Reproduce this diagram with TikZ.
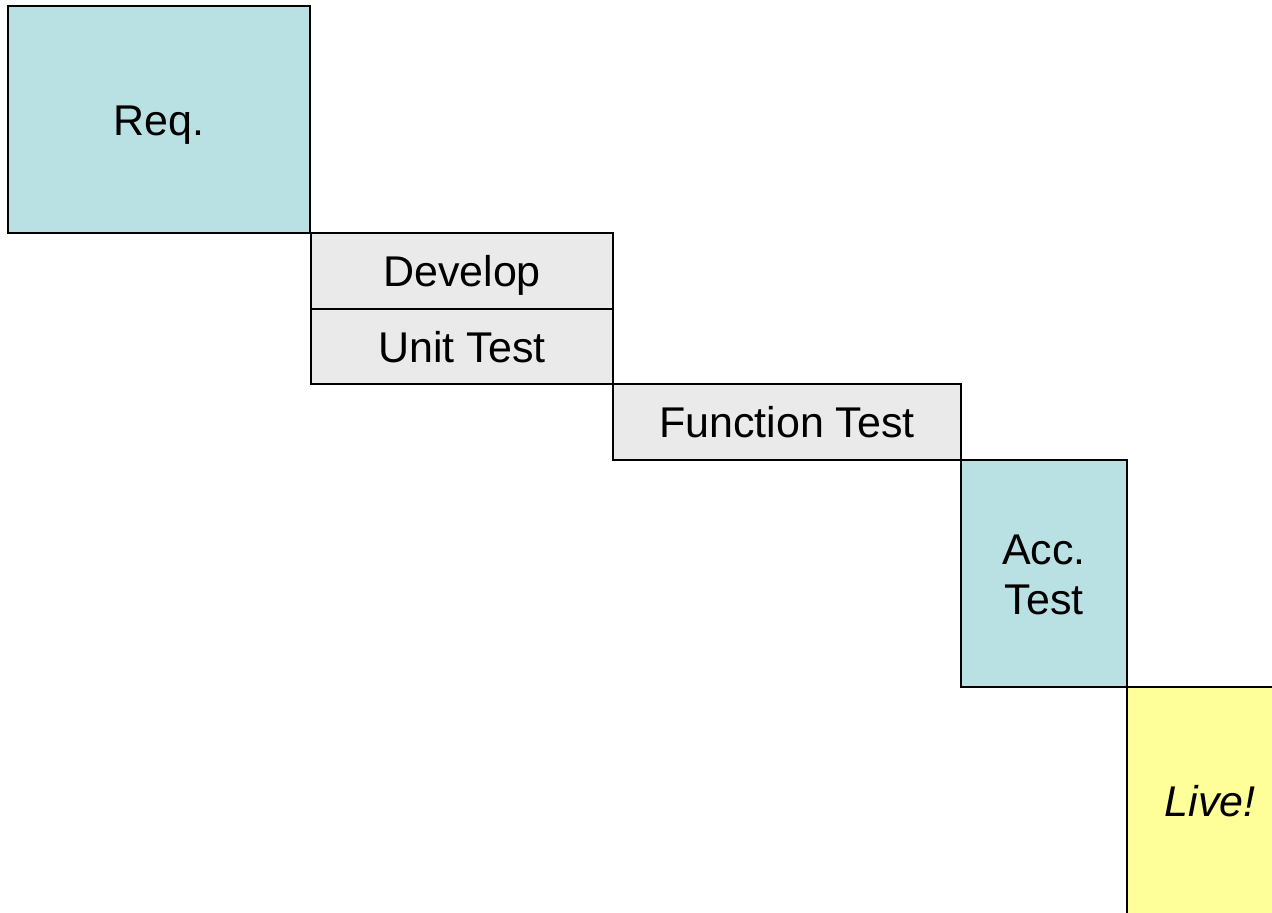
\documentclass[tikz,border=0pt]{standalone}
\usepackage{fontspec}
\setmainfont{Liberation Sans}
\usepackage{tikz}

\definecolor{reqblue}{RGB}{185,224,227}
\definecolor{stepgray}{RGB}{234,234,234}
\definecolor{liveyellow}{RGB}{255,255,153}

\tikzset{
  phase/.style={draw=black, line width=1.5pt, rectangle, inner sep=0pt,
    align=center, text height=31pt, text depth=0pt,
    font=\fontsize{43}{50}\selectfont}
}

\begin{document}
\begin{tikzpicture}[x=1pt, y=-1pt]
\clip (0,0) rectangle (1272,913) ;
\fill[white] (0,0) rectangle (1272,913) ;
\coordinate (R) at (159,119.5) ;
\coordinate (D) at (462,271) ;
\coordinate (U) at (462,346.5) ;
\coordinate (F) at (787,422) ;
\coordinate (A) at (1044,573.5) ;
\coordinate (L) at (1210,800.5) ;
\node[phase, fill=reqblue, minimum width=302pt, minimum height=227pt] (req) at (R) {Req.} ;
\node[phase, fill=stepgray, minimum width=302pt, minimum height=76pt] (develop) at (D) {Develop} ;
\node[phase, fill=stepgray, minimum width=302pt, minimum height=75pt] (unittest) at (U) {Unit Test} ;
\node[phase, fill=stepgray, minimum width=348pt, minimum height=76pt] (functest) at (F) {Function Test} ;
\node[phase, fill=reqblue, minimum width=166pt, minimum height=227pt, text height=81pt] (acctest) at (A) {Acc.\\Test} ;
\node[phase, fill=liveyellow, minimum width=166pt, minimum height=227pt] (live) at (L) {\itshape Live!} ;
\end{tikzpicture}
\end{document}
